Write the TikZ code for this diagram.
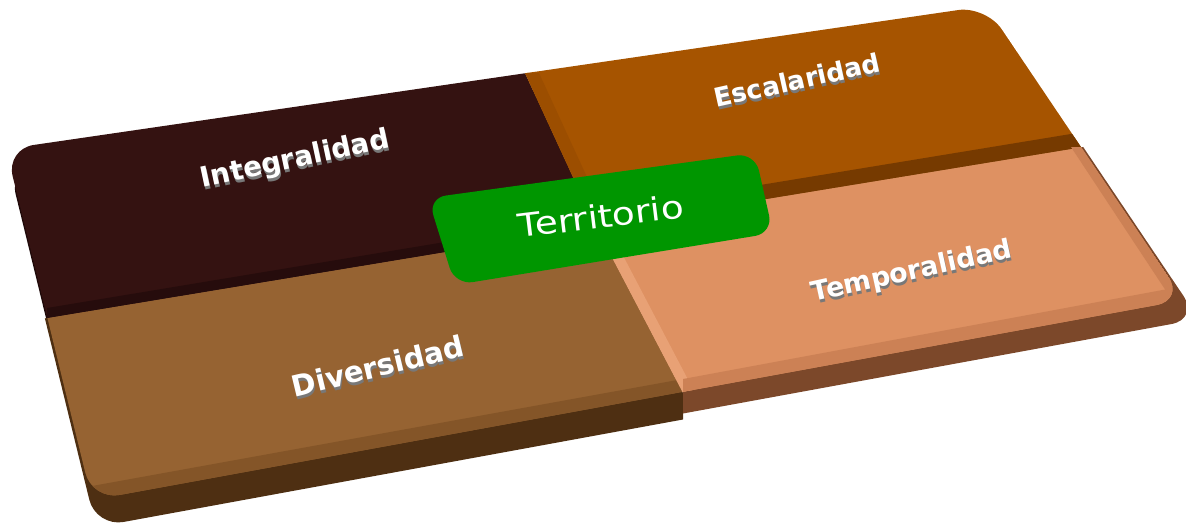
\documentclass[tikz,border=0pt]{standalone}
\usepackage{fontspec}
\setmainfont{DejaVu Sans}
\usepackage{xcolor}
\usepackage{tikz}
\usetikzlibrary{calc}

\definecolor{integral}{RGB}{52,18,17}
\definecolor{integraldark}{RGB}{38,12,12}
\definecolor{integralside}{RGB}{30,9,9}
\definecolor{escalar}{RGB}{166,84,0}
\definecolor{escalardark}{RGB}{118,58,0}
\definecolor{escalarmid}{RGB}{156,78,0}
\definecolor{divers}{RGB}{150,99,50}
\definecolor{diversmid}{RGB}{132,85,40}
\definecolor{diversside}{RGB}{78,47,18}
\definecolor{tempo}{RGB}{222,145,98}
\definecolor{tempomid}{RGB}{204,129,85}
\definecolor{tempolight}{RGB}{232,161,117}
\definecolor{temposide}{RGB}{124,72,42}
\definecolor{territ}{RGB}{0,150,0}
\definecolor{embgray}{RGB}{120,120,120}

\begin{document}
\begin{tikzpicture}[x=0.5pt, y=-0.5pt,
    label face/.style={text=white, inner sep=0pt},
    label shade/.style={text=embgray, inner sep=0pt}]

    \useasboundingbox (0,0) rectangle (1186,524);

    %coordinates
    \coordinate (A) at (6,149); % top left
    \coordinate (B) at (986,6); % top right
    \coordinate (C) at (1184,300); % bottom right
    \coordinate (D) at (92,500); % bottom left
    \coordinate (T) at (525,73); % top split
    \coordinate (R) at (1083,147); % right split
    \coordinate (Bm) at (683,393); % bottom split
    \coordinate (L) at (47,318); % left split
    \coordinate (O) at (596,227); % centre

    %thickness, top left
    \begin{scope}
    \clip (-50,-50) -- ($(O)!1.3!(T)$) -- (O) -- ($(O)!1.12!(L)$) -- cycle;
    \fill[integralside, rounded corners=14pt] ($(A)+(3,18)$) -- ($(B)+(3,18)$) -- ($(C)+(3,18)$) -- ($(D)+(3,18)$) -- cycle;
    \end{scope}
    %thickness, bottom left
    \begin{scope}
    \clip ($(O)!1.12!(L)$) -- (O) -- (Bm) -- ($(Bm)+(0,200)$) -- (-50,600) -- cycle;
    \fill[diversside, rounded corners=14pt] ($(A)+(4,27)$) -- ($(B)+(4,27)$) -- ($(C)+(4,27)$) -- ($(D)+(4,27)$) -- cycle;
    \end{scope}
    %thickness, bottom right
    \begin{scope}
    \clip ($(O)!1.3!(R)$) -- (O) -- (Bm) -- ($(Bm)+(0,200)$) -- (1250,600) -- cycle;
    \fill[temposide, rounded corners=14pt] ($(A)+(15,19)$) -- ($(B)+(15,19)$) -- ($(C)+(15,19)$) -- ($(D)+(15,19)$) -- cycle;
    \end{scope}

    %top face
    \begin{scope}
    \clip[rounded corners=14pt] (A) -- (B) -- (C) -- (D) -- cycle;
    \fill[integral] (A) -- (T) -- (O) -- (L) -- cycle;
    \fill[escalar] (T) -- (B) -- (R) -- (O) -- cycle;
    \fill[tempo] (O) -- (R) -- (C) -- (Bm) -- cycle;
    \fill[divers] (L) -- (O) -- (Bm) -- (D) -- cycle;
    %bevels
    \fill[integraldark] (L) -- (O) -- ($(O)+(0,-10)$) -- ($(L)+(0,-10)$) -- cycle;
    \fill[escalarmid] (T) -- (O) -- ($(O)+(14,0)$) -- ($(T)+(14,0)$) -- cycle;
    \fill[escalardark] (O) -- (R) -- ($(R)+(0,-15)$) -- ($(O)+(0,-15)$) -- cycle;
    \fill[diversmid] (D) -- (Bm) -- ($(Bm)+(0,-14)$) -- ($(D)+(0,-14)$) -- cycle;
    \fill[tempolight] (O) -- (Bm) -- ($(Bm)+(12,0)$) -- ($(O)+(12,0)$) -- cycle;
    \fill[tempomid] (R) -- (C) -- ($(C)+(-12,0)$) -- ($(R)+(-12,0)$) -- cycle;
    \fill[tempomid] (Bm) -- (C) -- ($(C)+(0,-14)$) -- ($(Bm)+(0,-14)$) -- cycle;
    \end{scope}

    %centre box
    \coordinate (P1) at (428,198);
    \coordinate (P2) at (755,153);
    \coordinate (P3) at (773,233);
    \coordinate (P4) at (455,285);
    \fill[territ, rounded corners=9pt] (P1) -- (P2) -- (P3) -- (P4) -- cycle;
    \node[label face, font=\fontsize{16}{16}\selectfont, rotate=7, xscale=1.17] (terr) at (601,216) {Territorio};

    %labels
    \foreach \n/\x/\y/\ang/\sz/\lbl in {integ/295/160/12/13.9/Integralidad,
        escal/797/80/12.5/13/Escalaridad,
        diver/378/366/13.5/14.6/Diversidad,
        tempo/912/272/12.5/13.4/Temporalidad}{
    	\node[label shade, font=\fontsize{\sz}{\sz}\selectfont\bfseries, rotate=\ang] (\n-sh) at ($(\x,\y)+(1,3)$) {\lbl};
    	\node[label face, font=\fontsize{\sz}{\sz}\selectfont\bfseries, rotate=\ang] (\n) at (\x,\y) {\lbl};
    }

\end{tikzpicture}
\end{document}
